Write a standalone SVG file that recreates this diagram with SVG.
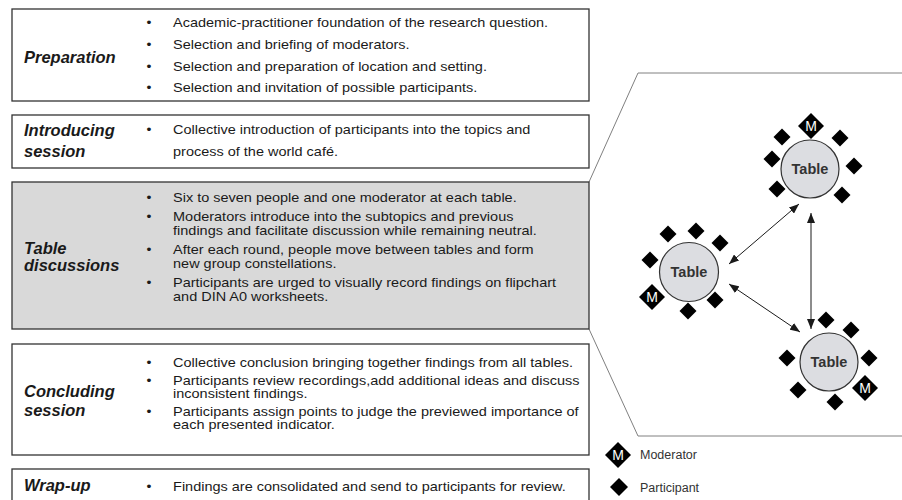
<svg xmlns="http://www.w3.org/2000/svg" xmlns:xlink="http://www.w3.org/1999/xlink" width="902" height="500" viewBox="0 0 902 500">
<style>
.box{fill:#fff;stroke:#333;stroke-width:1.3}
.gray{fill:#d9d9d9}
.lbl{font-family:"Liberation Sans",Arial,sans-serif;font-weight:bold;font-style:italic;font-size:16.5px;fill:#1a1a1a}
.txt{font-family:"Liberation Sans",Arial,sans-serif;font-size:13px;fill:#1a1a1a}
.bul{font-family:"Liberation Sans",Arial,sans-serif;font-size:12.6px;fill:#1a1a1a;text-anchor:middle}
.tbl{fill:#dcdde1;stroke:#333;stroke-width:1.2}
.tt{font-family:"Liberation Sans",Arial,sans-serif;font-weight:bold;font-size:14.5px;fill:#333;text-anchor:middle}
.mt{font-family:"Liberation Sans",Arial,sans-serif;font-size:14px;fill:#fff;text-anchor:middle}
.leg{font-family:"Liberation Sans",Arial,sans-serif;font-size:12.5px;fill:#333}
.con{stroke:#1a1a1a;stroke-width:1;fill:none;marker-start:url(#ah);marker-end:url(#ah)}
.frame{fill:none;stroke:#808080;stroke-width:1}
</style>
<defs>
<marker id="ah" viewBox="0 0 10 8" refX="10" refY="4" markerWidth="10" markerHeight="8" markerUnits="userSpaceOnUse" orient="auto-start-reverse">
<path d="M0,0 L10,4 L0,8 Z" fill="#1a1a1a"/>
</marker>
<path id="p" d="M0,-8.5 L8.5,0 L0,8.5 L-8.5,0 Z" fill="#000"/>
<g id="m">
<path d="M0,-13 L13,0 L0,13 L-13,0 Z" fill="#000"/>
<text class="mt" x="0" y="5">M</text>
</g>
</defs>

<!-- zoom frame -->
<path class="frame" d="M589,182 L638,73 L902,73"/>
<path class="frame" d="M589,329 L638,436 L902,436"/>

<g id="preparation">
<rect class="box" x="12" y="9" width="577" height="92"/>
<text class="lbl" x="24" y="63">Preparation</text>
<g transform="scale(1.115,1)">
<text class="bul" x="133.6" y="27.5">•</text><text class="txt" x="155.2" y="27.5">Academic-practitioner foundation of the research question.</text>
<text class="bul" x="133.6" y="49.5">•</text><text class="txt" x="155.2" y="49.5">Selection and briefing of moderators.</text>
<text class="bul" x="133.6" y="71">•</text><text class="txt" x="155.2" y="71">Selection and preparation of location and setting.</text>
<text class="bul" x="133.6" y="92">•</text><text class="txt" x="155.2" y="92">Selection and invitation of possible participants.</text>
</g>
</g>

<g id="introducing">
<rect class="box" x="12" y="115" width="577" height="53"/>
<text class="lbl" x="24" y="136">Introducing</text>
<text class="lbl" x="24" y="157">session</text>
<g transform="scale(1.115,1)">
<text class="bul" x="133.6" y="134.5">•</text><text class="txt" x="155.2" y="134.5">Collective introduction of participants into the topics and</text>
<text class="txt" x="155.2" y="156">process of the world café.</text>
</g>
</g>

<g id="table-discussions">
<rect class="box gray" x="12" y="182" width="577" height="147"/>
<text class="lbl" x="24" y="254">Table</text>
<text class="lbl" x="24" y="271">discussions</text>
<g transform="scale(1.115,1)">
<text class="bul" x="133.6" y="202.5">•</text><text class="txt" x="155.2" y="202.5">Six to seven people and one moderator at each table.</text>
<text class="bul" x="133.6" y="221">•</text><text class="txt" x="155.2" y="221">Moderators introduce into the subtopics and previous</text>
<text class="txt" x="155.2" y="235">findings and facilitate discussion while remaining neutral.</text>
<text class="bul" x="133.6" y="254">•</text><text class="txt" x="155.2" y="254">After each round, people move between tables and form</text>
<text class="txt" x="155.2" y="268">new group constellations.</text>
<text class="bul" x="133.6" y="287">•</text><text class="txt" x="155.2" y="287">Participants are urged to visually record findings on flipchart</text>
<text class="txt" x="155.2" y="301">and DIN A0 worksheets.</text>
</g>
</g>

<g id="concluding">
<rect class="box" x="12" y="344" width="577" height="111"/>
<text class="lbl" x="24" y="397">Concluding</text>
<text class="lbl" x="24" y="416">session</text>
<g transform="scale(1.115,1)">
<text class="bul" x="133.6" y="367">•</text><text class="txt" x="155.2" y="367">Collective conclusion bringing together findings from all tables.</text>
<text class="bul" x="133.6" y="385">•</text><text class="txt" x="155.2" y="385">Participants review recordings,add additional ideas and discuss</text>
<text class="txt" x="155.2" y="398.5">inconsistent findings.</text>
<text class="bul" x="133.6" y="416">•</text><text class="txt" x="155.2" y="416">Participants assign points to judge the previewed importance of</text>
<text class="txt" x="155.2" y="429.5">each presented indicator.</text>
</g>
</g>

<g id="wrap-up">
<rect class="box" x="12" y="469" width="577" height="45"/>
<text class="lbl" x="24" y="491">Wrap-up</text>
<g transform="scale(1.115,1)">
<text class="bul" x="133.6" y="491">•</text><text class="txt" x="155.2" y="491">Findings are consolidated and send to participants for review.</text>
</g>
</g>

<g id="connectors">
<line class="con" x1="799" y1="204" x2="729" y2="264"/>
<line class="con" x1="811" y1="213" x2="811" y2="329"/>
<line class="con" x1="729" y1="284" x2="800" y2="332"/>
</g>

<g id="table-top">
<use xlink:href="#m" x="811" y="126"/>
<use xlink:href="#p" x="782" y="137"/>
<use xlink:href="#p" x="840" y="138"/>
<use xlink:href="#p" x="772" y="159"/>
<use xlink:href="#p" x="854" y="166"/>
<use xlink:href="#p" x="777" y="189"/>
<use xlink:href="#p" x="842" y="195"/>
<circle class="tbl" cx="810" cy="169" r="29"/>
<text class="tt" x="810" y="174">Table</text>
</g>

<g id="table-left">
<use xlink:href="#p" x="668" y="234"/>
<use xlink:href="#p" x="696" y="231"/>
<use xlink:href="#p" x="720" y="243"/>
<use xlink:href="#p" x="650" y="260"/>
<use xlink:href="#m" x="652" y="297"/>
<use xlink:href="#p" x="688" y="311"/>
<use xlink:href="#p" x="715" y="300"/>
<circle class="tbl" cx="689" cy="272" r="29.5"/>
<text class="tt" x="689" y="277">Table</text>
</g>

<g id="table-bottom">
<use xlink:href="#p" x="826" y="320"/>
<use xlink:href="#p" x="851" y="330"/>
<use xlink:href="#p" x="787" y="358"/>
<use xlink:href="#p" x="869" y="358"/>
<use xlink:href="#m" x="865" y="388"/>
<use xlink:href="#p" x="798" y="390"/>
<use xlink:href="#p" x="835" y="402"/>
<circle class="tbl" cx="829" cy="362" r="29"/>
<text class="tt" x="829" y="367">Table</text>
</g>

<g id="legend">
<use xlink:href="#m" x="618" y="455"/>
<text class="leg" x="640" y="459">Moderator</text>
<path d="M619,478 L628,487 L619,496 L610,487 Z" fill="#000"/>
<text class="leg" x="640" y="492">Participant</text>
</g>
</svg>
